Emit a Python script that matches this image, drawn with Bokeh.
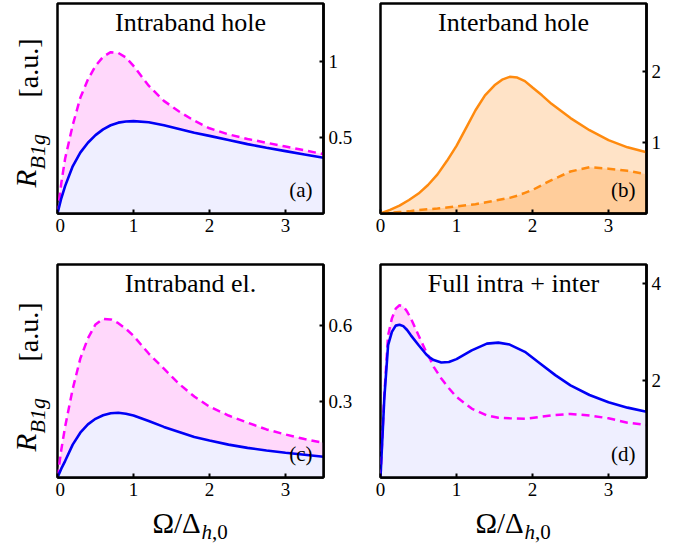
import math
from bokeh.plotting import figure
from bokeh.models import Range1d, FixedTicker, Label
from bokeh.layouts import column, row
from bokeh.embed import file_html
from bokeh.resources import INLINE

FONT = "Liberation Serif"

# ---------------- data ----------------
x_ticks = [0, 1, 2, 3]

# (a) Intraband hole
a_x = [0, 0.05, 0.1, 0.2, 0.3, 0.4, 0.5, 0.6, 0.7, 0.8, 0.9, 1.0, 1.2, 1.4, 1.6, 1.8, 2.0, 2.25, 2.5, 2.75, 3.0, 3.25, 3.5]
a_dashed = [0, 0.2, 0.36, 0.58, 0.76, 0.88, 0.97, 1.03, 1.06, 1.055, 1.025, 0.97, 0.84, 0.74, 0.67, 0.61, 0.56, 0.52, 0.49, 0.465, 0.44, 0.415, 0.39]
a_solid = [0, 0.1, 0.18, 0.31, 0.40, 0.465, 0.515, 0.553, 0.58, 0.597, 0.605, 0.607, 0.6, 0.58, 0.555, 0.53, 0.51, 0.483, 0.456, 0.432, 0.41, 0.388, 0.366]
a_yticks = [0.5, 1.0]
a_ylabels = ["0.5", "1"]

# (b) Interband hole
b_x = [0, 0.125, 0.25, 0.375, 0.5, 0.625, 0.75, 0.875, 1.0, 1.125, 1.25, 1.375, 1.5, 1.6, 1.7, 1.8, 1.9, 2.0, 2.125, 2.25, 2.5, 2.75, 3.0, 3.25, 3.5]
b_solid = [0, 0.05, 0.11, 0.19, 0.28, 0.4, 0.55, 0.74, 0.95, 1.2, 1.45, 1.66, 1.8, 1.88, 1.92, 1.91, 1.86, 1.77, 1.66, 1.54, 1.34, 1.17, 1.03, 0.93, 0.86]
b_dashed = [0, 0.01, 0.02, 0.03, 0.05, 0.06, 0.07, 0.085, 0.1, 0.115, 0.13, 0.155, 0.18, 0.2, 0.22, 0.25, 0.29, 0.33, 0.4, 0.47, 0.59, 0.65, 0.63, 0.6, 0.55]
b_yticks = [1, 2]
b_ylabels = ["1", "2"]

# (c) Intraband el.
c_x = [0, 0.05, 0.1, 0.2, 0.3, 0.4, 0.5, 0.6, 0.7, 0.8, 0.9, 1.0, 1.2, 1.4, 1.6, 1.8, 2.0, 2.25, 2.5, 2.75, 3.0, 3.25, 3.5]
c_dashed = [0, 0.11, 0.2, 0.35, 0.47, 0.55, 0.605, 0.627, 0.625, 0.61, 0.588, 0.56, 0.49, 0.43, 0.37, 0.32, 0.28, 0.245, 0.217, 0.19, 0.17, 0.152, 0.137]
c_solid = [0, 0.035, 0.065, 0.13, 0.177, 0.21, 0.232, 0.246, 0.254, 0.256, 0.252, 0.245, 0.223, 0.2, 0.18, 0.16, 0.146, 0.13, 0.117, 0.107, 0.098, 0.09, 0.082]
c_yticks = [0.3, 0.6]
c_ylabels = ["0.3", "0.6"]

# (d) Full intra + inter
d_x = [0, 0.05, 0.1, 0.15, 0.2, 0.25, 0.3, 0.35, 0.4, 0.5, 0.6, 0.65, 0.7, 0.8, 0.9, 1.0, 1.2, 1.4, 1.55, 1.7, 1.9, 2.1, 2.3, 2.5, 2.75, 3.0, 3.25, 3.5]
d_solid = [0, 1.63, 2.73, 3.0, 3.13, 3.15, 3.12, 3.04, 2.93, 2.73, 2.54, 2.47, 2.42, 2.37, 2.38, 2.44, 2.62, 2.76, 2.78, 2.74, 2.59, 2.35, 2.11, 1.9, 1.7, 1.55, 1.44, 1.355]
d_dashed = [0, 1.7, 2.93, 3.28, 3.48, 3.55, 3.53, 3.42, 3.28, 2.93, 2.59, 2.45, 2.28, 2.04, 1.84, 1.66, 1.42, 1.28, 1.23, 1.22, 1.21, 1.25, 1.29, 1.31, 1.28, 1.22, 1.13, 1.08]
d_yticks = [2, 4]
d_ylabels = ["2", "4"]

titles = ["Intraband hole", "Interband hole", "Intraband el.", "Full intra + inter"]
letters = ["(a)", "(b)", "(c)", "(d)"]
ylab_main, ylab_sub, ylab_unit = "R", "B1g", "[a.u.]"
xlab_main, xlab_sub1, xlab_sub2 = "Ω/Δ", "h", ",0"

# ---------------- styling ----------------
FW = 266
FH_TOP, FH_BOT = 210, 213
PINK = "#FFD8FB"
LAV = "#EFEFFF"
BLUE = "#0000F5"
MAG = "#FF00FF"
ORANGE = "#FF8A0E"
SW = 55          # width of the y-label strip
K = 0.33         # rendered baseline sits K*size below the anchor


def text(p, x, y, s, size, align="left", style="normal", angle=0.0):
    px = float(size.replace("px", ""))
    if angle:
        x = x - K * px        # rotated: text "down" points to +x
    else:
        y = y + K * px
    p.add_layout(Label(x=x, y=y, x_units="screen", y_units="screen", text=s,
                       text_font=FONT, text_font_size=size, text_font_style=style,
                       text_align=align, text_baseline="alphabetic", angle=angle,
                       text_color="black"))


def strip(w, h):
    f = figure(width=w, height=h, x_range=Range1d(0, 1), y_range=Range1d(0, 1),
               x_axis_location=None, y_axis_location=None,
               output_backend="svg", toolbar_location=None,
               min_border_left=0, min_border_right=0, min_border_top=0, min_border_bottom=0)
    f.grid.visible = False
    f.outline_line_color = None
    return f


def make_panel(fh, ymax, yticks, ylabels, left, right, top, bottom):
    p = figure(frame_width=FW, frame_height=fh, x_range=Range1d(0, 3.5), y_range=Range1d(0, ymax),
               y_axis_location="right", output_backend="svg", toolbar_location=None,
               min_border_left=left, min_border_right=right, min_border_top=top, min_border_bottom=bottom)
    p.grid.visible = False
    p.outline_line_color = "black"
    p.outline_line_width = 2.5
    p.outline_line_alpha = 1.0
    for ax, ticks in ((p.xaxis[0], x_ticks), (p.yaxis[0], yticks)):
        ax.ticker = FixedTicker(ticks=ticks)
        ax.major_tick_in = 4
        ax.major_tick_out = 0
        ax.major_tick_line_width = 2
        ax.major_tick_line_color = "black"
        ax.minor_tick_line_color = None
        ax.axis_line_width = 2.5
        ax.axis_line_color = "black"
        ax.major_label_text_font = FONT
        ax.major_label_text_font_size = "19px"
        ax.major_label_text_color = "black"
        ax.major_label_standoff = 5
    p.yaxis[0].major_label_overrides = {float(v): s for v, s in zip(yticks, ylabels)}
    return p


def ylabel_strip(h):
    # frame of this strip is aligned with the neighbouring panel frame
    f = strip(SW, h)
    text(f, 37, 116, ylab_unit, "28px", align="left", angle=math.pi / 2)
    text(f, 35, 26, ylab_main, "29px", style="italic", angle=math.pi / 2)
    text(f, 44, 44, ylab_sub, "22px", style="italic", angle=math.pi / 2)
    return f


def deco(p, i, fh):
    text(p, FW / 2, fh - 28, titles[i], "26px", align="center")
    text(p, FW - 11, 17, letters[i], "21px", align="right")


def blue_magenta(p, x, dashed, solid):
    p.varea(x=x, y1=0, y2=dashed, fill_color=PINK, fill_alpha=1.0)
    p.varea(x=x, y1=0, y2=solid, fill_color=LAV, fill_alpha=1.0)
    p.line(x, dashed, line_color=MAG, line_width=2.5, line_dash="8 5")
    p.line(x, solid, line_color=BLUE, line_width=2.6)


TOP_T, TOP_B = 3, 43
BOT_T, BOT_B = 8, 30

pa = make_panel(FH_TOP, 1.38, a_yticks, a_ylabels, 2, 35, TOP_T, TOP_B)
blue_magenta(pa, a_x, a_dashed, a_solid)
deco(pa, 0, FH_TOP)

pb = make_panel(FH_TOP, 2.95, b_yticks, b_ylabels, 22, 34, TOP_T, TOP_B)
pb.varea(x=b_x, y1=0, y2=b_solid, fill_color="#FF8000", fill_alpha=0.22)
pb.varea(x=b_x, y1=0, y2=b_dashed, fill_color="#FF8000", fill_alpha=0.22)
pb.line(b_x, b_solid, line_color=ORANGE, line_width=2.5)
pb.line(b_x, b_dashed, line_color=ORANGE, line_width=2.5, line_dash="8 5")
deco(pb, 1, FH_TOP)

pc = make_panel(FH_BOT, 0.842, c_yticks, c_ylabels, 2, 35, BOT_T, BOT_B)
blue_magenta(pc, c_x, c_dashed, c_solid)
deco(pc, 2, FH_BOT)

pd = make_panel(FH_BOT, 4.39, d_yticks, d_ylabels, 22, 34, BOT_T, BOT_B)
blue_magenta(pd, d_x, d_dashed, d_solid)
deco(pd, 3, FH_BOT)

ya = ylabel_strip(TOP_T + FH_TOP + TOP_B)
yc = ylabel_strip(BOT_T + FH_BOT + BOT_B)

XS_H = 36
xs = strip(SW + 303 + 322, XS_H)
for cx in (SW + 2 + FW / 2, SW + 303 + 22 + FW / 2):
    text(xs, cx - 38, 11, xlab_main, "29px")
    text(xs, cx + 11, 5, xlab_sub1, "21px", style="italic")
    text(xs, cx + 21.5, 5, xlab_sub2, "21px")

layout = column(row(ya, pa, pb), row(yc, pc, pd), xs)

open("out.html", "w").write(file_html(layout, INLINE))
